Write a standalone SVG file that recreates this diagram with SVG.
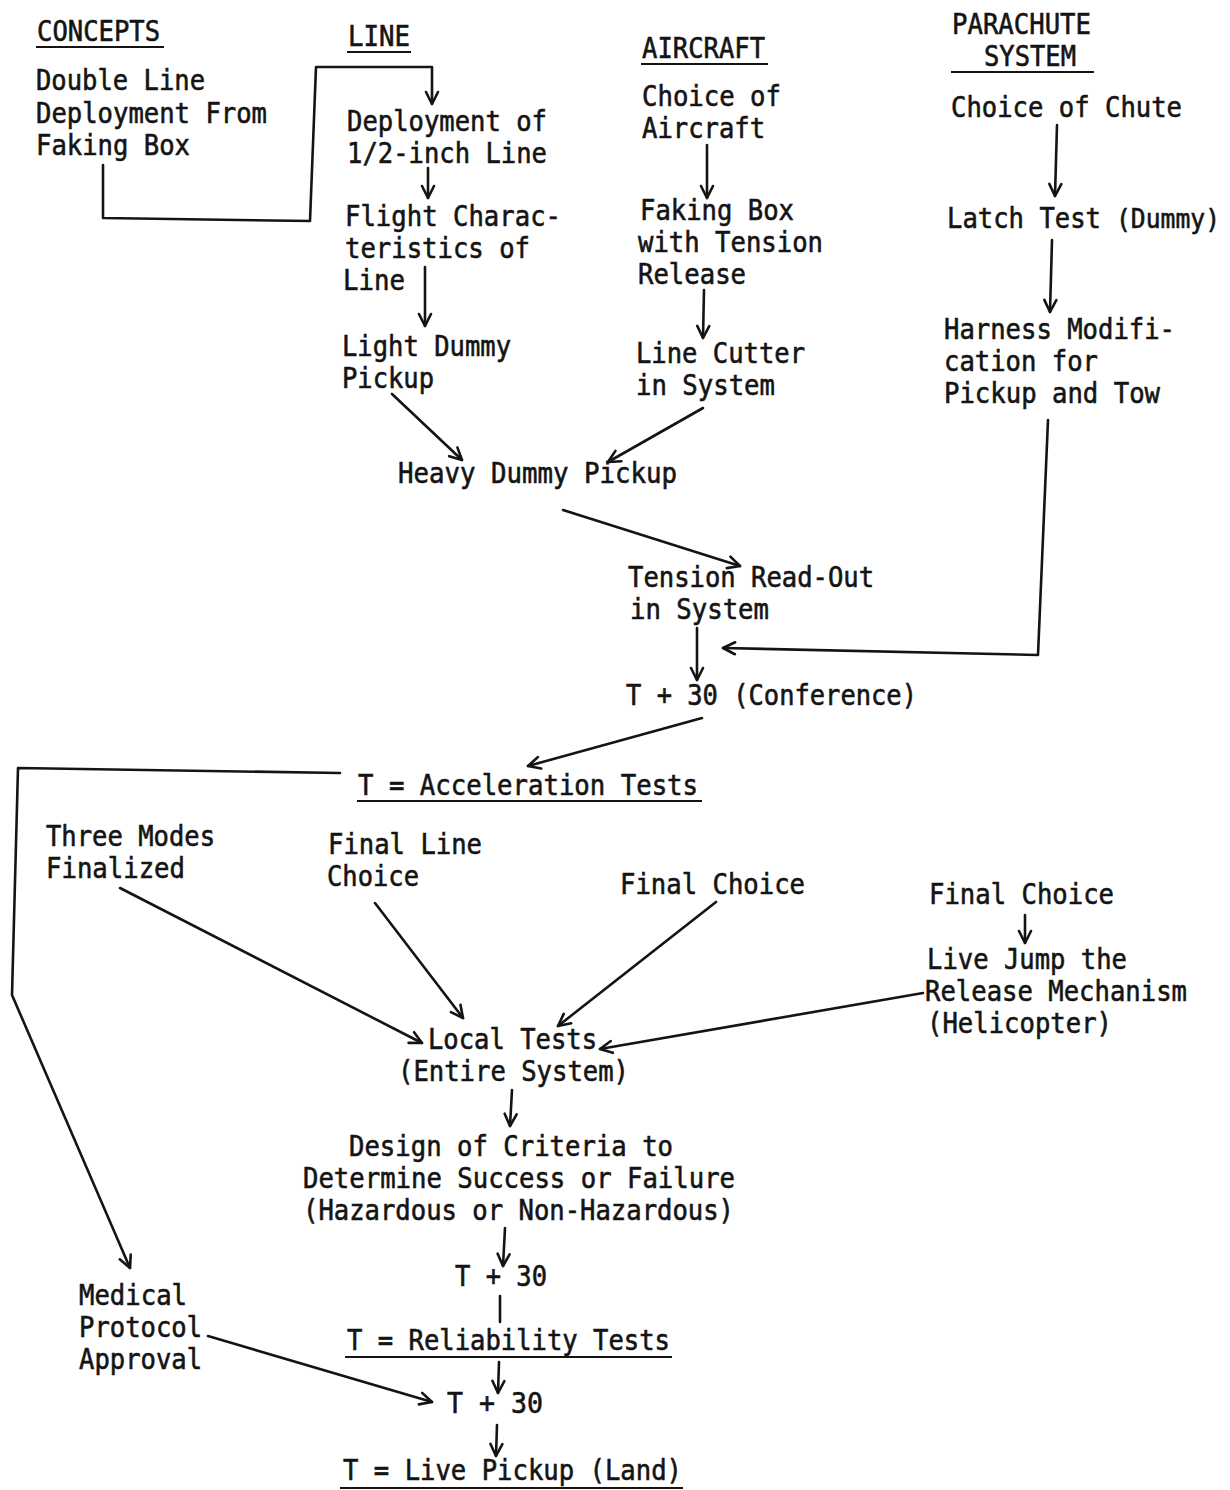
<svg xmlns="http://www.w3.org/2000/svg" width="1230" height="1490" viewBox="0 0 1230 1490">
<style>
text{font-family:"DejaVu Sans Mono","Liberation Mono",monospace;font-size:28px;fill:#141414;stroke:#141414;stroke-width:0.6}
.c line,.c polyline,.c path{stroke:#141414;stroke-width:2.6;fill:none;stroke-linecap:round;stroke-linejoin:round}
.u{stroke:#141414;stroke-width:2.2}
</style>
<defs>
<marker id="ah" markerUnits="userSpaceOnUse" markerWidth="18" markerHeight="18" refX="14" refY="8" orient="auto">
<path d="M2,2 L14,8 L2,14" fill="none" stroke="#141414" stroke-width="2.6" stroke-linecap="round" stroke-linejoin="round"/>
</marker>
</defs>
<rect width="1230" height="1490" fill="#fff"/>
<g id="h-concepts"><text x="37" y="41" textLength="123" lengthAdjust="spacingAndGlyphs">CONCEPTS</text><line class="u" x1="36" y1="47" x2="164" y2="47"/></g>
<g id="h-line"><text x="348" y="46" textLength="62" lengthAdjust="spacingAndGlyphs">LINE</text><line class="u" x1="347" y1="52" x2="411" y2="52"/></g>
<g id="h-aircraft"><text x="642" y="58" textLength="123" lengthAdjust="spacingAndGlyphs">AIRCRAFT</text><line class="u" x1="641" y1="64" x2="768" y2="64"/></g>
<g id="h-parachute"><text x="952" y="34" textLength="139" lengthAdjust="spacingAndGlyphs">PARACHUTE</text><text x="984" y="66" textLength="92" lengthAdjust="spacingAndGlyphs">SYSTEM</text><line class="u" x1="951" y1="72" x2="1094" y2="72"/></g>
<g id="n-double"><text x="36" y="90" textLength="169" lengthAdjust="spacingAndGlyphs">Double Line</text><text x="36" y="123" textLength="231" lengthAdjust="spacingAndGlyphs">Deployment From</text><text x="36" y="155" textLength="154" lengthAdjust="spacingAndGlyphs">Faking Box</text></g>
<g id="n-deploy"><text x="347" y="131" textLength="200" lengthAdjust="spacingAndGlyphs">Deployment of</text><text x="347" y="163" textLength="200" lengthAdjust="spacingAndGlyphs">1/2-inch Line</text></g>
<g id="n-flight"><text x="345" y="226" textLength="216" lengthAdjust="spacingAndGlyphs">Flight Charac-</text><text x="345" y="258" textLength="185" lengthAdjust="spacingAndGlyphs">teristics of</text><text x="343" y="290" textLength="62" lengthAdjust="spacingAndGlyphs">Line</text></g>
<g id="n-light"><text x="342" y="356" textLength="169" lengthAdjust="spacingAndGlyphs">Light Dummy</text><text x="342" y="388" textLength="92" lengthAdjust="spacingAndGlyphs">Pickup</text></g>
<g id="n-choice-aircraft"><text x="642" y="106" textLength="139" lengthAdjust="spacingAndGlyphs">Choice of</text><text x="642" y="138" textLength="123" lengthAdjust="spacingAndGlyphs">Aircraft</text></g>
<g id="n-faking"><text x="640" y="220" textLength="154" lengthAdjust="spacingAndGlyphs">Faking Box</text><text x="638" y="252" textLength="185" lengthAdjust="spacingAndGlyphs">with Tension</text><text x="638" y="284" textLength="108" lengthAdjust="spacingAndGlyphs">Release</text></g>
<g id="n-cutter"><text x="636" y="363" textLength="169" lengthAdjust="spacingAndGlyphs">Line Cutter</text><text x="636" y="395" textLength="139" lengthAdjust="spacingAndGlyphs">in System</text></g>
<g id="n-chute"><text x="951" y="117" textLength="231" lengthAdjust="spacingAndGlyphs">Choice of Chute</text></g>
<g id="n-latch"><text x="947" y="228" textLength="154" lengthAdjust="spacingAndGlyphs">Latch Test</text><text x="1116" y="228" style="font-size:26px" textLength="104" lengthAdjust="spacingAndGlyphs">(Dummy)</text></g>
<g id="n-harness"><text x="944" y="339" textLength="231" lengthAdjust="spacingAndGlyphs">Harness Modifi-</text><text x="944" y="371" textLength="154" lengthAdjust="spacingAndGlyphs">cation for</text><text x="944" y="403" textLength="216" lengthAdjust="spacingAndGlyphs">Pickup and Tow</text></g>
<g id="n-heavy"><text x="398" y="483" textLength="279" lengthAdjust="spacingAndGlyphs">Heavy Dummy Pickup</text></g>
<g id="n-tension"><text x="628" y="587" textLength="246" lengthAdjust="spacingAndGlyphs">Tension Read-Out</text><text x="630" y="619" textLength="139" lengthAdjust="spacingAndGlyphs">in System</text></g>
<g id="n-conference"><text x="626" y="705" textLength="291" lengthAdjust="spacingAndGlyphs">T + 30 (Conference)</text></g>
<g id="n-accel"><text x="358" y="795" textLength="340" lengthAdjust="spacingAndGlyphs">T = Acceleration Tests</text><line class="u" x1="357" y1="801" x2="702" y2="801"/></g>
<g id="n-three"><text x="46" y="846" textLength="169" lengthAdjust="spacingAndGlyphs">Three Modes</text><text x="46" y="878" textLength="139" lengthAdjust="spacingAndGlyphs">Finalized</text></g>
<g id="n-finalline"><text x="328" y="854" textLength="154" lengthAdjust="spacingAndGlyphs">Final Line</text><text x="327" y="886" textLength="92" lengthAdjust="spacingAndGlyphs">Choice</text></g>
<g id="n-finalchoice1"><text x="620" y="894" textLength="185" lengthAdjust="spacingAndGlyphs">Final Choice</text></g>
<g id="n-finalchoice2"><text x="929" y="904" textLength="185" lengthAdjust="spacingAndGlyphs">Final Choice</text></g>
<g id="n-livejump"><text x="927" y="969" textLength="200" lengthAdjust="spacingAndGlyphs">Live Jump the</text><text x="925" y="1001" textLength="262" lengthAdjust="spacingAndGlyphs">Release Mechanism</text><text x="927" y="1033" textLength="185" lengthAdjust="spacingAndGlyphs">(Helicopter)</text></g>
<g id="n-local"><text x="428" y="1049" textLength="169" lengthAdjust="spacingAndGlyphs">Local Tests</text><text x="398" y="1081" textLength="231" lengthAdjust="spacingAndGlyphs">(Entire System)</text></g>
<g id="n-design"><text x="349" y="1156" textLength="324" lengthAdjust="spacingAndGlyphs">Design of Criteria to</text><text x="303" y="1188" textLength="432" lengthAdjust="spacingAndGlyphs">Determine Success or Failure</text><text x="303" y="1220" textLength="431" lengthAdjust="spacingAndGlyphs">(Hazardous or Non-Hazardous)</text></g>
<g id="n-t30a"><text x="455" y="1286" textLength="92" lengthAdjust="spacingAndGlyphs">T + 30</text></g>
<g id="n-reliability"><text x="347" y="1350" textLength="323" lengthAdjust="spacingAndGlyphs">T = Reliability Tests</text><line class="u" x1="345" y1="1357" x2="672" y2="1357"/></g>
<g id="n-t30b"><text x="447" y="1413" textLength="96" lengthAdjust="spacingAndGlyphs">T + 30</text></g>
<g id="n-livepickup"><text x="343" y="1480" textLength="339" lengthAdjust="spacingAndGlyphs">T = Live Pickup (Land)</text><line class="u" x1="340" y1="1488" x2="683" y2="1488"/></g>
<g id="n-medical"><text x="79" y="1305" textLength="108" lengthAdjust="spacingAndGlyphs">Medical</text><text x="79" y="1337" textLength="123" lengthAdjust="spacingAndGlyphs">Protocol</text><text x="79" y="1369" textLength="123" lengthAdjust="spacingAndGlyphs">Approval</text></g>
<g id="connectors" class="c">
<polyline points="103,165 103,218 310,221 316,67 432,67 432,104" marker-end="url(#ah)"/>
<line x1="428" y1="168" x2="428" y2="198" marker-end="url(#ah)"/>
<line x1="425" y1="267" x2="425" y2="326" marker-end="url(#ah)"/>
<line x1="707" y1="145" x2="707" y2="198" marker-end="url(#ah)"/>
<line x1="704" y1="290" x2="703" y2="338" marker-end="url(#ah)"/>
<line x1="1057" y1="125" x2="1055" y2="196" marker-end="url(#ah)"/>
<line x1="1052" y1="240" x2="1050" y2="312" marker-end="url(#ah)"/>
<line x1="392" y1="394" x2="462" y2="460" marker-end="url(#ah)"/>
<line x1="703" y1="408" x2="608" y2="462" marker-end="url(#ah)"/>
<line x1="563" y1="510" x2="740" y2="566" marker-end="url(#ah)"/>
<polyline points="1048,420 1038,655 723,648" marker-end="url(#ah)"/>
<line x1="697" y1="628" x2="697" y2="680" marker-end="url(#ah)"/>
<line x1="702" y1="718" x2="528" y2="766" marker-end="url(#ah)"/>
<polyline points="340,773 18,768 12,995 130,1268" marker-end="url(#ah)"/>
<line x1="120" y1="888" x2="422" y2="1043" marker-end="url(#ah)"/>
<line x1="375" y1="903" x2="463" y2="1018" marker-end="url(#ah)"/>
<line x1="716" y1="902" x2="558" y2="1026" marker-end="url(#ah)"/>
<line x1="1025" y1="915" x2="1025" y2="943" marker-end="url(#ah)"/>
<line x1="923" y1="993" x2="600" y2="1049" marker-end="url(#ah)"/>
<line x1="512" y1="1090" x2="510" y2="1126" marker-end="url(#ah)"/>
<line x1="505" y1="1228" x2="503" y2="1266" marker-end="url(#ah)"/>
<line x1="500" y1="1296" x2="500" y2="1322"/>
<line x1="499" y1="1362" x2="498" y2="1393" marker-end="url(#ah)"/>
<line x1="208" y1="1336" x2="432" y2="1402" marker-end="url(#ah)"/>
<line x1="497" y1="1425" x2="496" y2="1456" marker-end="url(#ah)"/>
</g>
</svg>
